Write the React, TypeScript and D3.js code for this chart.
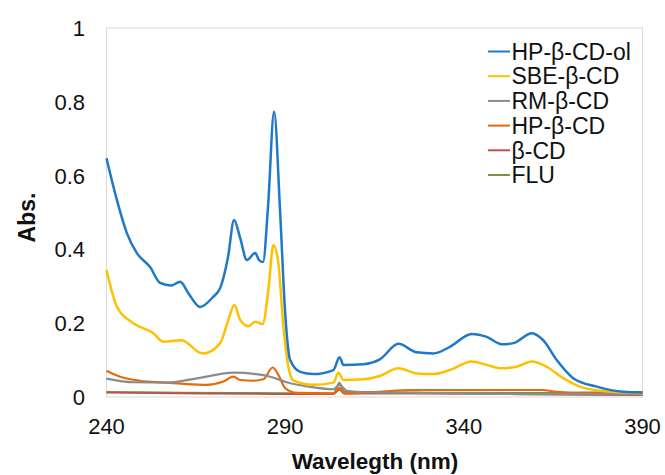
import React from 'react';
import * as d3 from 'd3';

// wavelength (nm) / absorbance pairs
const hpBcdOl: [number, number][] = [
  [240, 0.647], [242.9, 0.534], [245.7, 0.444], [248.5, 0.39], [252.2, 0.352], [255, 0.309],
  [258, 0.302], [260.6, 0.312], [263, 0.28], [266.2, 0.244], [269.8, 0.271], [271.8, 0.295],
  [274, 0.379], [275.7, 0.48], [277.4, 0.431], [279.3, 0.371], [281.6, 0.39], [282.7, 0.371],
  [283.8, 0.366], [285.2, 0.515], [286.9, 0.773], [288.6, 0.499], [290, 0.228], [291.4, 0.1],
  [294.2, 0.068], [297.9, 0.062], [303.5, 0.073], [305.2, 0.108], [306.3, 0.087], [311.9, 0.089],
  [316.5, 0.102], [321.7, 0.144], [326.8, 0.121], [331.5, 0.118], [336.1, 0.136], [342.2, 0.171],
  [346.4, 0.163], [350.6, 0.143], [353.9, 0.146], [359, 0.173], [362.2, 0.154], [366, 0.1],
  [370.6, 0.051], [377.2, 0.028], [384.6, 0.014], [390, 0.012],
];

const sbeBcd: [number, number][] = [
  [240, 0.344], [242.9, 0.245], [247.5, 0.2], [253.1, 0.173], [255.9, 0.15], [261, 0.154],
  [266.2, 0.12], [267.1, 0.118], [271.8, 0.146], [274.1, 0.209], [275.8, 0.249], [277.4, 0.209],
  [279.7, 0.192], [281.6, 0.204], [283.7, 0.198], [285.3, 0.29], [286.7, 0.412], [288.1, 0.362],
  [289.5, 0.191], [290.9, 0.082], [292.3, 0.045], [297.9, 0.033], [303.5, 0.039], [304.9, 0.066],
  [306.3, 0.046], [311.9, 0.048], [316.5, 0.057], [321.7, 0.078], [326.8, 0.064], [331.5, 0.062],
  [336.1, 0.073], [342.2, 0.096], [346.4, 0.087], [350.1, 0.078], [354.8, 0.082], [359, 0.096],
  [363.2, 0.082], [367.8, 0.051], [372.5, 0.028], [378.1, 0.017], [390, 0.01],
];

const rmBcd: [number, number][] = [
  [240, 0.05], [247.5, 0.04], [256.8, 0.039], [266.2, 0.052], [275.5, 0.066], [282, 0.062],
  [285.8, 0.055], [290.4, 0.04], [296, 0.029], [303.5, 0.021], [305.2, 0.033], [307.2, 0.017],
  [316, 0.012], [340, 0.01], [360, 0.008], [390, 0.008],
];

const hpBcd: [number, number][] = [
  [240, 0.071], [243.8, 0.055], [249.4, 0.044], [256.8, 0.039], [262.4, 0.035], [268, 0.033],
  [272.7, 0.042], [275.5, 0.055], [277.4, 0.046], [281.1, 0.044], [283.9, 0.048], [286.5, 0.08],
  [288.1, 0.06], [290, 0.024], [293.2, 0.011], [303.5, 0.01], [305.2, 0.025], [306.5, 0.01],
  [316, 0.014], [325, 0.019], [345, 0.019], [362, 0.019], [366, 0.014], [375, 0.01], [390, 0.009],
];

const bCd: [number, number][] = [
  [240, 0.012], [260, 0.01], [290, 0.008], [303.5, 0.008], [305.2, 0.02], [306.5, 0.009],
  [330, 0.009], [360, 0.007], [390, 0.005],
];

const flu: [number, number][] = [
  [240, 0.014], [260, 0.012], [280, 0.011], [303.5, 0.01], [305.2, 0.039], [306.5, 0.014],
  [330, 0.012], [360, 0.011], [380, 0.013], [390, 0.014],
];

const seriesNames = ['HP-β-CD-ol', 'SBE-β-CD', 'RM-β-CD', 'HP-β-CD', 'β-CD', 'FLU'];
const seriesData = [hpBcdOl, sbeBcd, rmBcd, hpBcd, bCd, flu];
const seriesColors = ['#1f78c8', '#ffc000', '#8c8c8c', '#e46c0a', '#c0504d', '#77933c'];
const seriesWidths = [2.5, 2.5, 2.2, 2.2, 1.8, 1.8];

const xTicks = [240, 290, 340, 390];
const yTicks = [0, 0.2, 0.4, 0.6, 0.8, 1];

const W = 665;
const H = 475;
const plot = { left: 106.5, right: 642.5, top: 28, bottom: 397 };

export default function App() {
  const x = d3.scaleLinear().domain([240, 390]).range([plot.left, plot.right]);
  const y = d3.scaleLinear().domain([0, 1]).range([plot.bottom, plot.top]);
  const line = d3
    .line<[number, number]>()
    .x(d => x(d[0]))
    .y(d => y(d[1]))
    .curve(d3.curveMonotoneX);

  const font = '"Liberation Sans", Arial, sans-serif';

  return (
    <svg width={W} height={H} style={{ position: 'absolute', left: 0, top: 0, background: '#fff' }}
      fontFamily={font}>
      <rect x={plot.left} y={plot.top} width={plot.right - plot.left} height={plot.bottom - plot.top}
        fill="none" stroke="#d9d9d9" strokeWidth={1} />

      {/* series, drawn back to front */}
      {seriesData.map((d, i) => seriesData.length - 1 - i).map(i => (
        <path key={seriesNames[i]} d={line(seriesData[i]) || ''} fill="none"
          stroke={seriesColors[i]} strokeWidth={seriesWidths[i]} strokeLinejoin="round" />
      ))}

      {yTicks.map(t => (
        <text key={t} x={85} y={y(t)} dy="0.36em" textAnchor="end" fontSize={22} fill="#111">
          {d3.format('~g')(t)}
        </text>
      ))}
      {xTicks.map(t => (
        <text key={t} x={x(t)} y={433.5} textAnchor="middle" fontSize={22} fill="#111">{t}</text>
      ))}

      <text transform={`translate(35, ${217.5}) rotate(-90)`}
        textAnchor="middle" fontSize={23} fontWeight="bold" fill="#111">Abs.</text>
      <text x={375} y={469} textAnchor="middle" fontSize={22.5}
        fontWeight="bold" fill="#111">Wavelegth (nm)</text>

      <g>
        {seriesNames.map((name, i) => (
          <g key={name} transform={`translate(488, ${51.5 + i * 24.7})`}>
            <line x1={0} x2={22} y1={0} y2={0} stroke={seriesColors[i]} strokeWidth={2} />
            <text x={23.5} y={0} dy="0.36em" fontSize={23} fill="#111">{name}</text>
          </g>
        ))}
      </g>
    </svg>
  );
}
